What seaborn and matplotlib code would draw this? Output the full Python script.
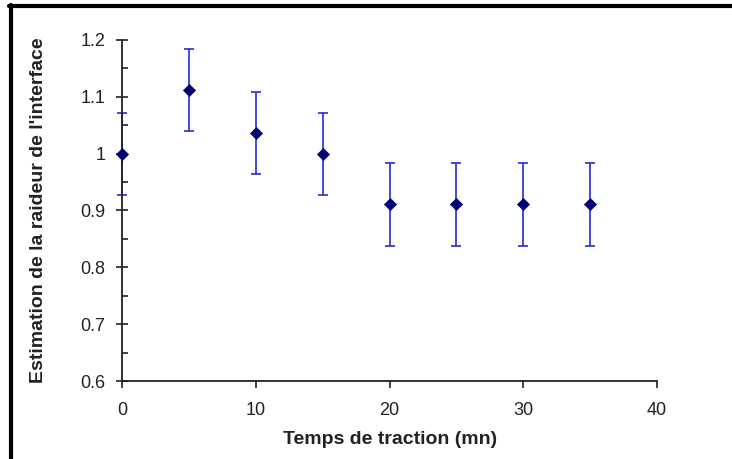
import matplotlib
matplotlib.use("Agg")
import matplotlib.pyplot as plt
import matplotlib.lines as mlines
import seaborn as sns
import pandas as pd

temps = [0, 5, 10, 15, 20, 25, 30, 35]
raideur = [1.0, 1.112, 1.036, 1.0, 0.911, 0.911, 0.911, 0.911]
erreur = [0.072, 0.072, 0.072, 0.072, 0.073, 0.073, 0.073, 0.073]
y_ticks = [0.6, 0.7, 0.8, 0.9, 1.0, 1.1, 1.2]
y_labels = ["0.6", "0.7", "0.8", "0.9", "1", "1.1", "1.2"]
x_ticks = [0, 10, 20, 30, 40]

sns.set_theme(style="white")
plt.rcParams['font.family'] = ['Liberation Sans', 'DejaVu Sans']

df = pd.DataFrame({"temps": temps, "raideur": raideur, "erreur": erreur})

fig = plt.figure(figsize=(7.32, 4.59), dpi=100)
ax = fig.add_axes([122/732, 1-381/459, (657-122)/732, (381-40)/459])

ax.errorbar(df["temps"], df["raideur"], yerr=df["erreur"], fmt='none',
            ecolor='#2a2ad6', elinewidth=1.2, capsize=3.5, capthick=1.2,
            zorder=2, clip_on=False)
sns.scatterplot(data=df, x="temps", y="raideur", marker='D', s=38,
                color='#000070', edgecolor='#000070', linewidth=0.5,
                ax=ax, zorder=3, clip_on=False)

ax.set_xlim(0, 40)
ax.set_ylim(0.6, 1.2)
ax.set_xticks(x_ticks)
ax.set_xticklabels([str(t) for t in x_ticks])
ax.set_yticks(y_ticks)
ax.set_yticklabels(y_labels)
ax.set_yticks([0.65, 0.75, 0.85, 0.95, 1.05, 1.15], minor=True)

for s in ['top', 'right']:
    ax.spines[s].set_visible(False)
for s in ['left', 'bottom']:
    ax.spines[s].set_color('#222222')
    ax.spines[s].set_linewidth(1.3)

ax.tick_params(axis='y', which='major', direction='inout', length=9, width=1.2,
               color='#222222', labelsize=13, labelcolor='#222222', pad=7.5, left=True)
ax.tick_params(axis='y', which='minor', direction='in', length=4, width=1.2,
               color='#222222', left=True)
ax.tick_params(axis='x', which='major', direction='out', length=5, width=1.2,
               color='#222222', labelsize=13, labelcolor='#222222', pad=10, bottom=True)

ax.set_xlabel("Temps de traction (mn)", fontsize=14, fontweight='bold',
              color='#222222')
ax.set_ylabel("Estimation de la raideur de l'interface", fontsize=14,
              fontweight='bold', color='#222222')
ax.xaxis.set_label_coords(0.501, -0.147)
ax.yaxis.set_label_coords(-0.140, 0.5)
ax.grid(False)

# partial frame (left and top edges)
fig.add_artist(mlines.Line2D([10.5/732, 10.5/732], [0, 1-5/459],
                             color='black', linewidth=3, transform=fig.transFigure))
fig.add_artist(mlines.Line2D([9/732, 1], [1-5.5/459, 1-5.5/459],
                             color='black', linewidth=3, transform=fig.transFigure))

fig.savefig("out.png", dpi=100)
